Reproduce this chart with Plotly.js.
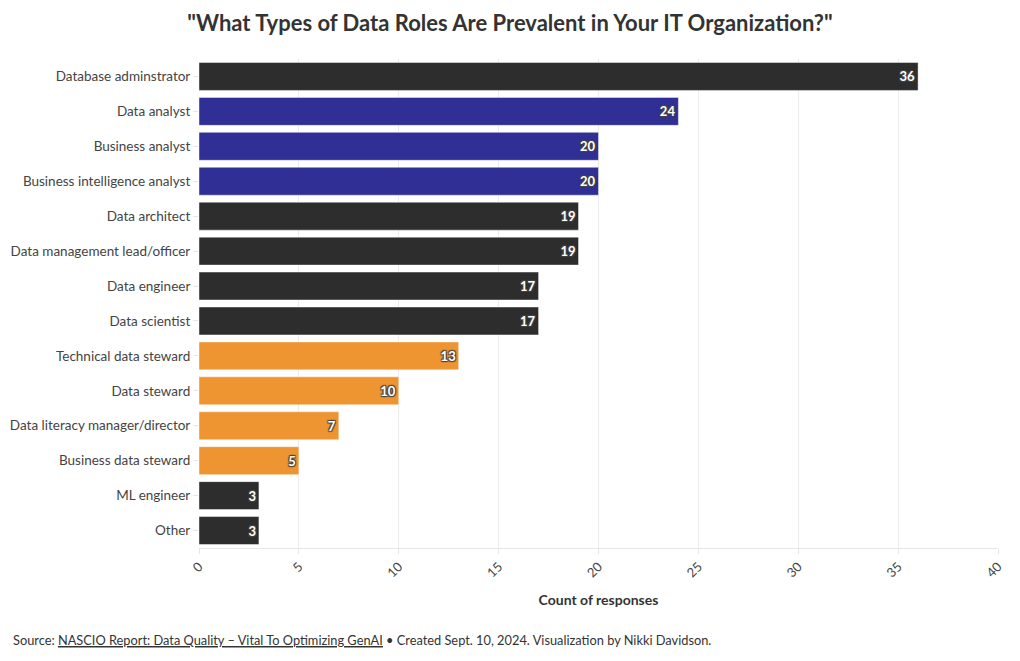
<!DOCTYPE html>
<html>
<head>
<meta charset="utf-8">
<script src="https://cdn.plot.ly/plotly-3.0.1.min.js"></script>
<style>html,body{margin:0;padding:0;background:#fff;}#chart{width:1020px;height:661px;}</style>
</head>
<body>
<div id="chart"></div>
<script>
var roles = ["Database adminstrator","Data analyst","Business analyst","Business intelligence analyst","Data architect","Data management lead/officer","Data engineer","Data scientist","Technical data steward","Data steward","Data literacy manager/director","Business data steward","ML engineer","Other"];
var counts = [36,24,20,20,19,19,17,17,13,10,7,5,3,3];
var groups = ["other","analyst","analyst","analyst","other","other","other","other","steward","steward","steward","steward","other","other"];
var groupColors = {other:"#2d2d2d", analyst:"#2f2f96", steward:"#ee9430"};
var xTicks = [0,5,10,15,20,25,30,35,40];

var FONT = "Lato, 'Source Sans Pro', sans-serif";
var trace = {
  type: "bar",
  orientation: "h",
  y: roles,
  x: counts,
  text: counts.map(String),
  textposition: "inside",
  insidetextanchor: "end",
  textfont: {family: FONT, size: 13, color: "#ffffff", weight: "bold", shadow: "auto"},
  marker: {color: groups.map(function(g){return groupColors[g];}), line: {color: "rgba(255,255,255,0.45)", width: 1}},
  hoverinfo: "x+y",
  cliponaxis: false
};

var layout = {
  width: 1020, height: 661,
  paper_bgcolor: "#ffffff", plot_bgcolor: "#ffffff",
  font: {family: FONT, size: 13, color: "#444"},
  margin: {l: 199, r: 22, t: 58.5, b: 112.5},
  title: {text: "<b>\"What Types of Data Roles Are Prevalent in Your IT Organization?\"</b>", x: 0.5, xanchor: "center", y: 0.965, yanchor: "middle", font: {family: FONT, size: 22, color: "#333"}},
  bargap: 0.2,
  showlegend: false,
  xaxis: {
    range: [0, 40], tickvals: xTicks, ticktext: xTicks.map(String),
    tickangle: -45, ticks: "outside", ticklen: 5, tickcolor: "#e6e6e6",
    showgrid: true, gridcolor: "#ececec", zeroline: false,
    showline: true, linecolor: "#e6e6e6", linewidth: 1,
    tickfont: {family: FONT, size: 13, color: "#444"},
    title: {text: "<b>Count of responses</b>", font: {family: FONT, size: 14, color: "#333"}, standoff: 15}
  },
  yaxis: {
    autorange: "reversed", ticks: "outside", ticklen: 5, tickcolor: "#e6e6e6",
    showgrid: false, showline: false,
    tickfont: {family: FONT, size: 13.5, color: "#444"}
  },
  annotations: [{
    xref: "paper", yref: "paper", x: -0.2353, y: -0.189, xanchor: "left", yanchor: "middle",
    showarrow: false, align: "left",
    font: {family: FONT, size: 12.8, color: "#333"},
    text: "Source: <a href=\"https://www.nascio.org/\" style=\"color:#333;text-decoration:underline\"><u>NASCIO Report: Data Quality – Vital To Optimizing GenAI</u></a> • Created Sept. 10, 2024. Visualization by Nikki Davidson."
  }]
};

Plotly.newPlot("chart", [trace], layout, {displayModeBar: false, responsive: false});
</script>
</body>
</html>
